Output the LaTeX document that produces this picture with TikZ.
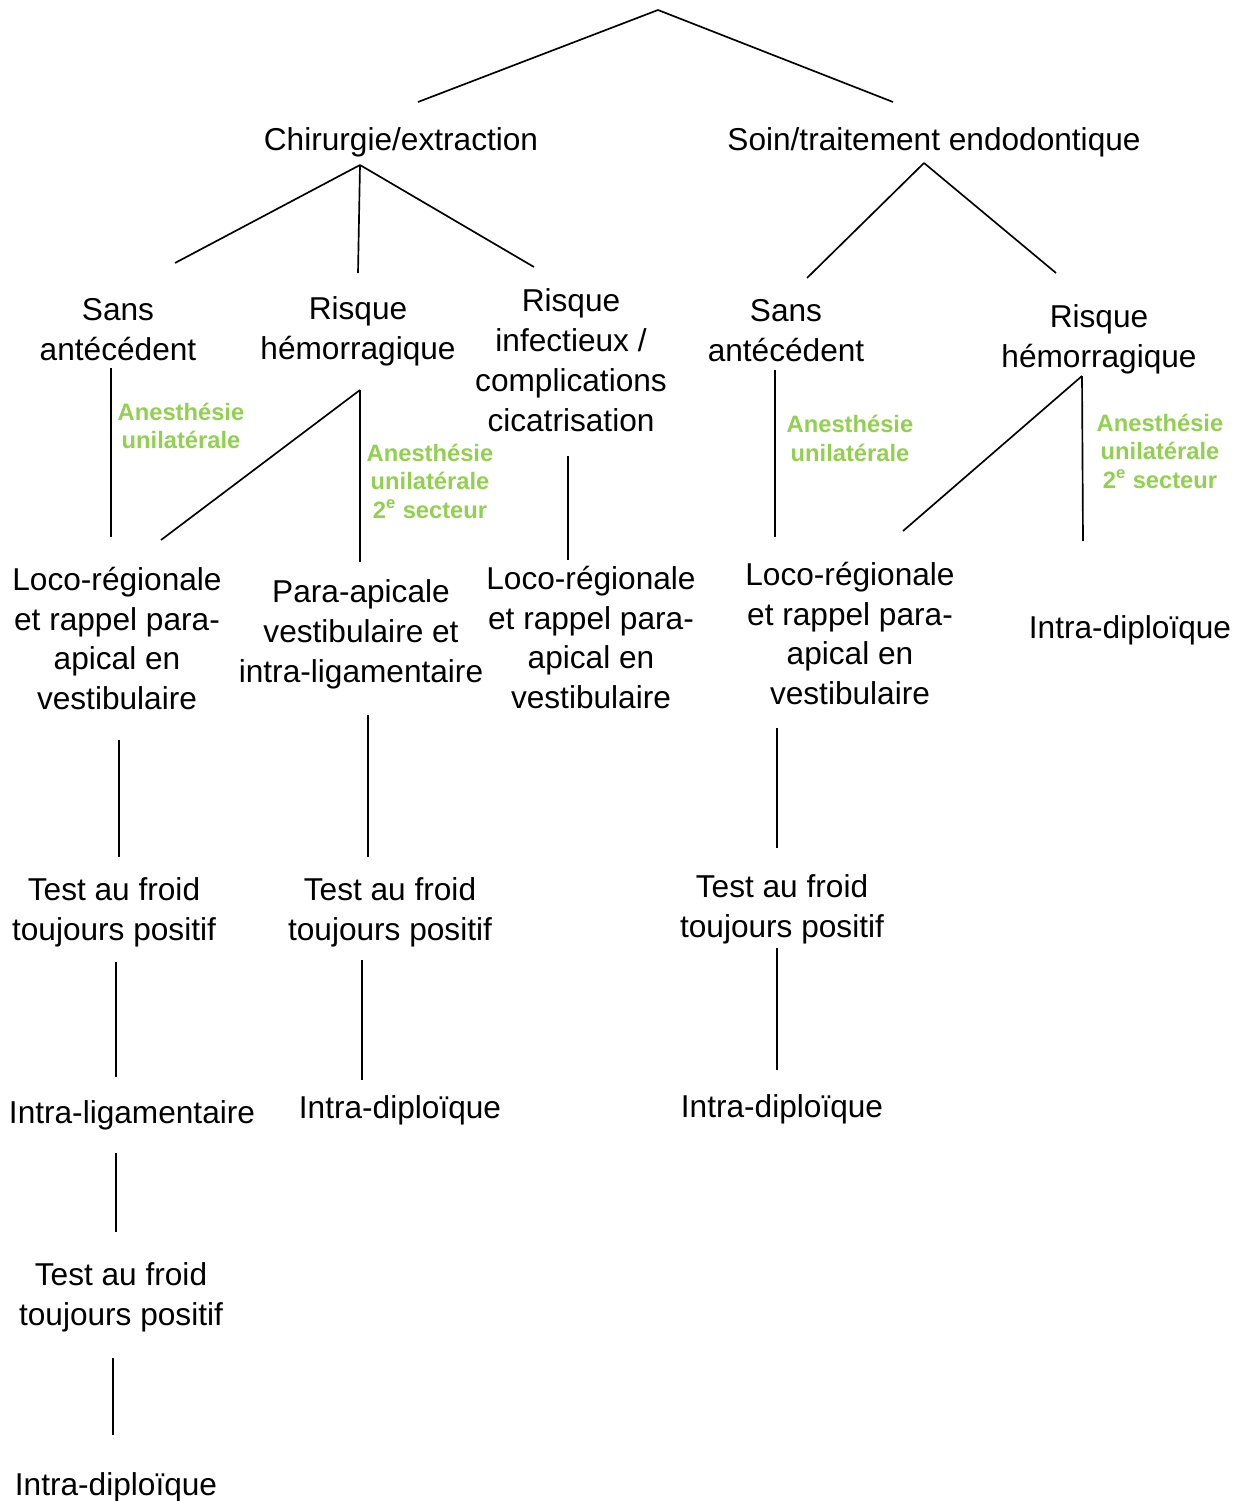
\documentclass[tikz,border=0pt]{standalone}
\usepackage{fontspec}
\setmainfont{Liberation Sans}
\definecolor{anagreen}{RGB}{146,208,80}
\tikzset{
  txt/.style={align=center, inner sep=0pt, yshift=-0.06cm, font=\fontsize{18}{22.7}\selectfont},
  anest/.style={align=center, inner sep=0pt, text=anagreen, font=\fontsize{13.5}{16.2}\selectfont\bfseries},
  link/.style={black, line width=0.95pt},
}

\begin{document}
\begin{tikzpicture}[x=0.02cm, y=-0.02cm]
\useasboundingbox (0,0) rectangle (1241,1501);
% choix du type d'acte
\node[txt] (chir) at (401,139) {Chirurgie/extraction};
\node[txt] (soin) at (934,139) {Soin/traitement endodontique};
% terrain du patient
\node[txt] (sansA) at (118,327) {Sans\\antécédent};
\node[txt] (hemA) at (358,328) {Risque\\hémorragique};
\node[txt] (infA) at (571,357) {Risque\\infectieux /\\complications\\cicatrisation};
\node[txt] (sansB) at (786,328) {Sans\\antécédent};
\node[txt] (hemB) at (1099,336) {Risque\\hémorragique};
% techniques
\node[txt] (locoA) at (117,635.5) {Loco-régionale\\et rappel para-\\apical en\\vestibulaire};
\node[txt] (paraA) at (361,631) {Para-apicale\\vestibulaire et\\intra-ligamentaire};
\node[txt] (locoC) at (591,634.5) {Loco-régionale\\et rappel para-\\apical en\\vestibulaire};
\node[txt] (locoB) at (850,630.5) {Loco-régionale\\et rappel para-\\apical en\\vestibulaire};
\node[txt] (diploB) at (1130,627) {Intra-diploïque};
\node[txt] (testA) at (114,909) {Test au froid\\toujours positif};
\node[txt] (testP) at (390,909) {Test au froid\\toujours positif};
\node[txt] (testB) at (782,906) {Test au froid\\toujours positif};
\node[txt] (ligA) at (132,1112) {Intra-ligamentaire};
\node[txt] (diploP) at (400,1107) {Intra-diploïque};
\node[txt] (diploT) at (782,1106) {Intra-diploïque};
\node[txt] (testA2) at (121,1294) {Test au froid\\toujours positif};
\node[txt] (diploA) at (116,1484) {Intra-diploïque};
% anesthesie
\node[anest] (anSansA) at (181,426) {Anesthésie\\unilatérale};
\node[anest] (anHemA) at (430,481) {Anesthésie\\unilatérale\\2\textsuperscript{e} secteur};
\node[anest] (anSansB) at (850,438.5) {Anesthésie\\unilatérale};
\node[anest] (anHemB) at (1160,451) {Anesthésie\\unilatérale\\2\textsuperscript{e} secteur};

% extremites des traits
\coordinate (top) at (658,10);
\coordinate (chirT) at (418,102);
\coordinate (soinT) at (893,102);
\coordinate (chirB) at (360,165);
\coordinate (sansAT) at (175,263);
\coordinate (hemAT) at (358,273);
\coordinate (infAT) at (534,267);
\coordinate (soinB) at (924,163);
\coordinate (sansBT) at (807,278);
\coordinate (hemBT) at (1056,273);
\coordinate (sansAB) at (111,368);
\coordinate (locoAT) at (111,537);
\coordinate (hemAB) at (360,390);
\coordinate (locoAT2) at (161,540);
\coordinate (paraAT) at (360,562);
\coordinate (infAB) at (568,456);
\coordinate (locoCT) at (568,560);
\coordinate (sansBB) at (775,370);
\coordinate (locoBT) at (775,537);
\coordinate (hemBB) at (1082,376);
\coordinate (locoBT2) at (903,531);
\coordinate (diploBT) at (1083,541);
\coordinate (locoAB) at (119,740);
\coordinate (testAT) at (119,857);
\coordinate (paraAB) at (368,715);
\coordinate (testPT) at (368,857);
\coordinate (locoBB) at (777,728);
\coordinate (testBT) at (777,848);
\coordinate (testAB) at (116,962);
\coordinate (ligAT) at (116,1077);
\coordinate (testPB) at (362,960);
\coordinate (diploPT) at (362,1080);
\coordinate (testBB) at (777,948);
\coordinate (diploTT) at (777,1070);
\coordinate (ligAB) at (116,1153);
\coordinate (testA2T) at (116,1232);
\coordinate (testA2B) at (113,1358);
\coordinate (diploAT) at (113,1435);

\foreach \a/\b in {top/chirT, top/soinT, chirB/sansAT, chirB/hemAT, chirB/infAT,
  soinB/sansBT, soinB/hemBT, sansAB/locoAT, hemAB/locoAT2, hemAB/paraAT,
  infAB/locoCT, sansBB/locoBT, hemBB/locoBT2, hemBB/diploBT,
  locoAB/testAT, paraAB/testPT, locoBB/testBT, testAB/ligAT, testPB/diploPT,
  testBB/diploTT, ligAB/testA2T, testA2B/diploAT}
  \draw[link] (\a) -- (\b);
\end{tikzpicture}
\end{document}
